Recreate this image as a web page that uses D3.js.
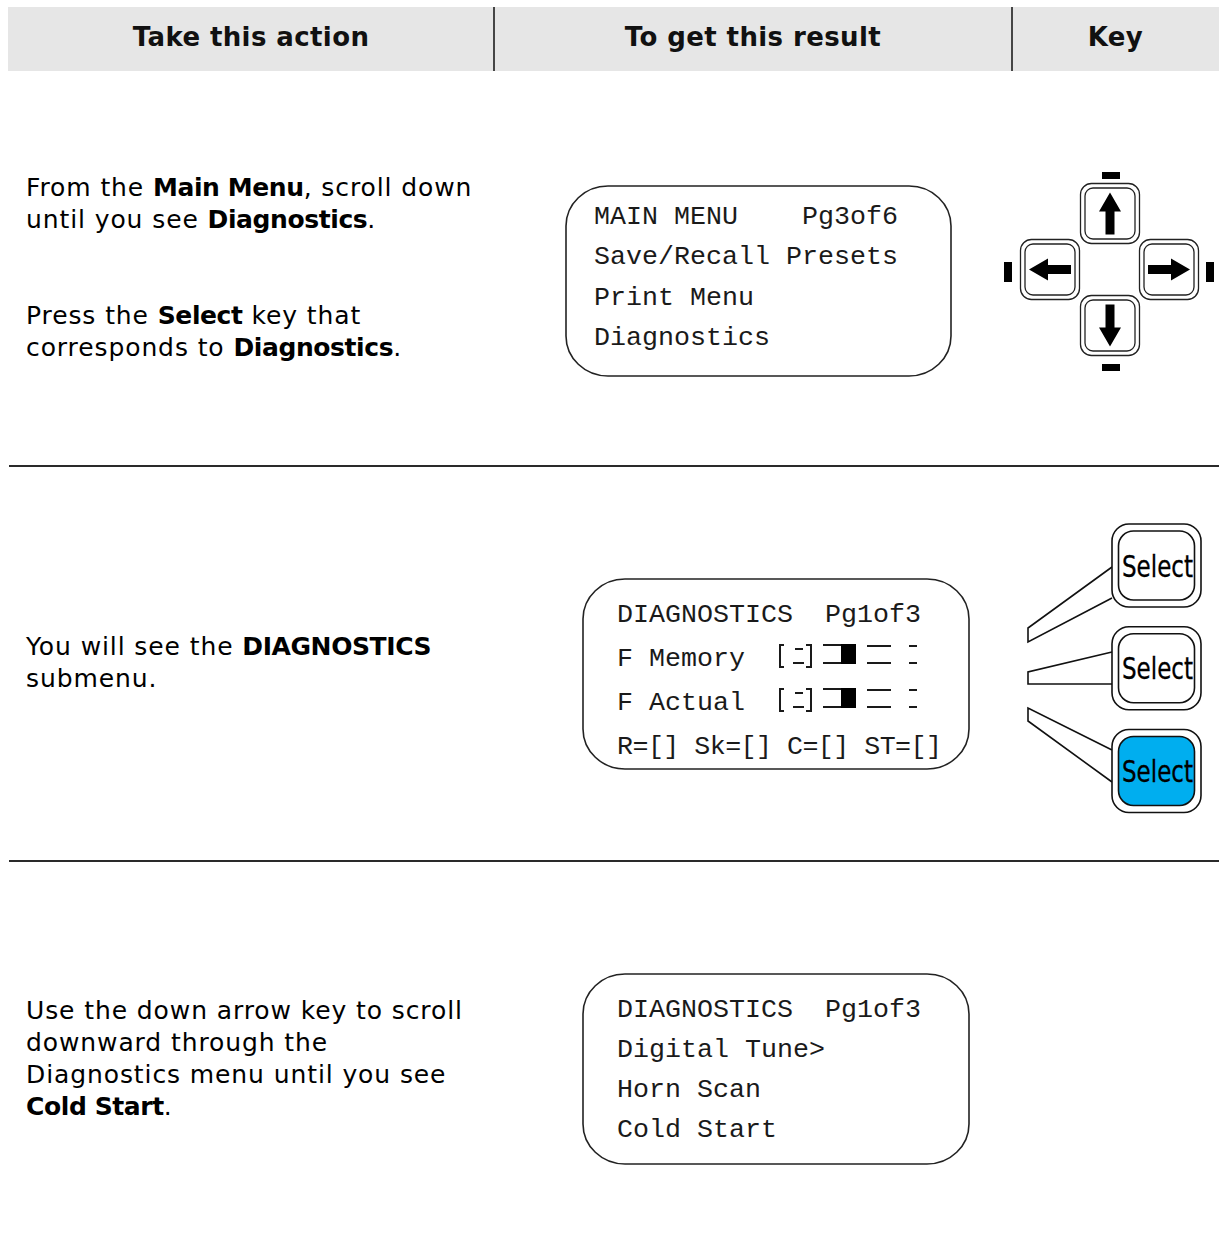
<!DOCTYPE html>
<html><head><meta charset="utf-8">
<script src="https://cdn.jsdelivr.net/npm/d3@7"></script>
<style>html,body{margin:0;padding:0;background:#fff;} svg{display:block}</style>
</head><body>
<svg id="c" width="1222" height="1253"></svg>
<script>
// ---------- content ----------
const headers = ["Take this action", "To get this result", "Key"];

// each row: list of paragraphs; each paragraph: lines; each line: [text, bold]
const actionRow1 = [
  [[["From the ", false], ["Main Menu", true], [", scroll down", false]],
   [["until you see ", false], ["Diagnostics", true], [".", false]]],
  [[["Press the ", false], ["Select", true], [" key that", false]],
   [["corresponds to ", false], ["Diagnostics", true], [".", false]]]
];
const actionRow2 = [
  [[["You will see the ", false], ["DIAGNOSTICS", true]],
   [["submenu.", false]]]
];
const actionRow3 = [
  [[["Use the down arrow key to scroll", false]],
   [["downward through the", false]],
   [["Diagnostics menu until you see", false]],
   [["Cold Start", true], [".", false]]]
];

const screen1 = ["MAIN MENU    Pg3of6", "Save/Recall Presets", "Print Menu", "Diagnostics"];
const screen2 = ["DIAGNOSTICS  Pg1of3", "F Memory", "F Actual", "R=[] Sk=[] C=[] ST=[]"];
const screen3 = ["DIAGNOSTICS  Pg1of3", "Digital Tune>", "Horn Scan", "Cold Start"];
const screen2Bars = [false, true, true, false];   // lines carrying the bar-graph glyphs

const arrowKeys = ["up", "left", "right", "down"];
const selectKeys = ["Select", "Select", "Select"];
const selectActive = [false, false, true];

// ---------- drawing ----------
const svg = d3.select("#c");
svg.append("rect").attr("width", 1222).attr("height", 1253).attr("fill", "#fff");

const colX = d3.scaleOrdinal().domain([0, 1, 2, 3]).range([8, 494, 1012, 1219]);

// header band
svg.append("rect").attr("x", colX(0)).attr("y", 7).attr("width", colX(3) - colX(0)).attr("height", 64).attr("fill", "#e6e6e6");
[1, 2].forEach(i => svg.append("line").attr("x1", colX(i)).attr("x2", colX(i)).attr("y1", 7).attr("y2", 71)
  .attr("stroke", "#111").attr("stroke-width", 1.5));
svg.selectAll("text.hdr").data(headers).join("text").attr("class", "hdr")
  .attr("x", (d, i) => (colX(i) + colX(i + 1)) / 2).attr("y", 46)
  .attr("text-anchor", "middle").attr("font-family", "'DejaVu Sans', Verdana, sans-serif")
  .attr("font-weight", "bold").attr("font-size", 26).attr("letter-spacing", 0.4).attr("fill", "#111").text(d => d);

// row separators
[466, 861].forEach(y => svg.append("line").attr("x1", 9).attr("x2", 1219).attr("y1", y).attr("y2", y)
  .attr("stroke", "#2a2a2a").attr("stroke-width", 2.2));

// action text
function drawParagraphs(paras, startYs) {
  paras.forEach((p, pi) => {
    const ly = d3.scaleLinear().domain([0, 1]).range([startYs[pi], startYs[pi] + 32]);
    p.forEach((line, li) => {
      const t = svg.append("text").attr("x", 26).attr("y", ly(li))
        .attr("font-family", "'DejaVu Sans', Verdana, sans-serif").attr("font-size", 25).attr("fill", "#000")
        .style("white-space", "pre");
      line.forEach(seg => t.append("tspan").attr("font-weight", seg[1] ? "bold" : "normal")
        .attr("letter-spacing", seg[1] ? -0.4 : 0.9).text(seg[0]));
    });
  });
}
drawParagraphs(actionRow1, [196, 324]);
drawParagraphs(actionRow2, [655]);
drawParagraphs(actionRow3, [1019]);

// LCD screens
function drawScreen(lines, box, textX, baselines, bars) {
  svg.append("rect").attr("x", box[0]).attr("y", box[1]).attr("width", box[2] - box[0]).attr("height", box[3] - box[1])
    .attr("rx", 42).attr("ry", 40).attr("fill", "#fff").attr("stroke", "#222").attr("stroke-width", 1.6);
  const ys = d3.scalePoint().domain(d3.range(lines.length)).range([baselines[0], baselines[1]]);
  lines.forEach((s, i) => {
    const t = svg.append("text").attr("x", textX).attr("y", ys(i)).attr("font-family", "'Liberation Mono', 'Courier New', monospace")
      .attr("font-size", 26.67).attr("fill", "#1a1a1a").style("white-space", "pre").text(s);
    const maxW = box[2] - textX - 27;
    if (t.node().getComputedTextLength() > maxW) t.attr("textLength", maxW).attr("lengthAdjust", "spacing");
    if (bars && bars[i]) drawBars(textX + 160, ys(i));
  });
}
function drawBars(x0, b) {
  const g = svg.append("g").attr("stroke", "#1a1a1a").attr("stroke-width", 2).attr("fill", "none");
  // [ ]
  g.append("path").attr("d", `M${x0 + 7},${b - 21}H${x0 + 3}V${b + 1}H${x0 + 7}`);
  g.append("path").attr("d", `M${x0 + 29},${b - 21}H${x0 + 34}V${b + 1}H${x0 + 29}`);
  g.append("line").attr("x1", x0 + 18).attr("x2", x0 + 26).attr("y1", b - 17).attr("y2", b - 17);
  g.append("line").attr("x1", x0 + 16).attr("x2", x0 + 27).attr("y1", b - 3).attr("y2", b - 3);
  // bar with block
  g.append("line").attr("x1", x0 + 46).attr("x2", x0 + 65).attr("y1", b - 21).attr("y2", b - 21);
  g.append("line").attr("x1", x0 + 46).attr("x2", x0 + 65).attr("y1", b - 3).attr("y2", b - 3);
  svg.append("rect").attr("x", x0 + 64).attr("y", b - 22).attr("width", 15).attr("height", 20).attr("fill", "#000");
  // double line
  g.append("line").attr("x1", x0 + 90).attr("x2", x0 + 114).attr("y1", b - 20).attr("y2", b - 20);
  g.append("line").attr("x1", x0 + 90).attr("x2", x0 + 114).attr("y1", b - 3).attr("y2", b - 3);
  // short dashes
  g.append("line").attr("x1", x0 + 132).attr("x2", x0 + 140).attr("y1", b - 20).attr("y2", b - 20);
  g.append("line").attr("x1", x0 + 132).attr("x2", x0 + 140).attr("y1", b - 3).attr("y2", b - 3);
}
drawScreen(screen1, [566, 186, 951, 376], 594, [224, 345], null);
drawScreen(screen2, [583, 579, 969, 769], 617, [622, 754], screen2Bars);
drawScreen(screen3, [583, 974, 969, 1164], 617, [1017, 1137], null);

// arrow keypad
const keyCenters = { up: [1110, 213.5], down: [1110, 325.5], left: [1050, 269.5], right: [1169, 269.5] };
const keyAngle = { up: -90, down: 90, left: 180, right: 0 };
const indicators = { up: [1102, 172, 18, 7], down: [1102, 364, 18, 7], left: [1004, 262, 8, 20], right: [1206, 262, 8, 20] };
arrowKeys.forEach(k => {
  const [cx, cy] = keyCenters[k];
  const g = svg.append("g").attr("transform", `translate(${cx},${cy})`);
  g.append("rect").attr("x", -29.5).attr("y", -30).attr("width", 59).attr("height", 60).attr("rx", 11)
    .attr("fill", "#fff").attr("stroke", "#222").attr("stroke-width", 1.3);
  g.append("rect").attr("x", -25).attr("y", -25.5).attr("width", 50).attr("height", 51).attr("rx", 8)
    .attr("fill", "none").attr("stroke", "#222").attr("stroke-width", 1.3);
  const L = 42, H = 19, W = 11, S = 4.5;
  const pts = [[L / 2, 0], [L / 2 - H, -W], [L / 2 - H, -S], [-L / 2, -S], [-L / 2, S], [L / 2 - H, S], [L / 2 - H, W]];
  g.append("path").attr("d", d3.line()(pts) + "Z").attr("fill", "#000").attr("transform", `rotate(${keyAngle[k]})`);
  const r = indicators[k];
  svg.append("rect").attr("x", r[0]).attr("y", r[1]).attr("width", r[2]).attr("height", r[3]).attr("fill", "#000");
});

// select keys with leader wedges
const selY = d3.scalePoint().domain(d3.range(selectKeys.length)).range([565.5, 771]);
const wedges = [
  [[1112, 567], [1028, 628], [1028, 642], [1112, 598]],
  [[1112, 652], [1028, 672], [1028, 684], [1112, 684]],
  [[1112, 750], [1028, 708], [1028, 721], [1112, 782]]
];
wedges.forEach(w => svg.append("path").attr("d", d3.line()(w)).attr("fill", "none").attr("stroke", "#111").attr("stroke-width", 1.6));
selectKeys.forEach((s, i) => {
  const cy = selY(i);
  const g = svg.append("g").attr("transform", `translate(1156.5,${cy})`);
  g.append("rect").attr("x", -44.5).attr("y", -41.5).attr("width", 89).attr("height", 83).attr("rx", 17)
    .attr("fill", "#fff").attr("stroke", "#111").attr("stroke-width", 1.6);
  g.append("rect").attr("x", -38).attr("y", -34.5).attr("width", 76).attr("height", 69).attr("rx", 15)
    .attr("fill", selectActive[i] ? "#00aeef" : "#fff").attr("stroke", "#111").attr("stroke-width", 1.6);
  g.append("text").attr("x", 1).attr("y", 11).attr("text-anchor", "middle")
    .attr("font-family", "'Liberation Sans Narrow', 'DejaVu Sans Condensed', 'Arial Narrow', sans-serif")
    .attr("font-size", 31).attr("fill", "#000").attr("stroke", "#000").attr("stroke-width", 0.3)
    .attr("textLength", 71).attr("lengthAdjust", "spacingAndGlyphs").text(s);
});
</script>
</body></html>
